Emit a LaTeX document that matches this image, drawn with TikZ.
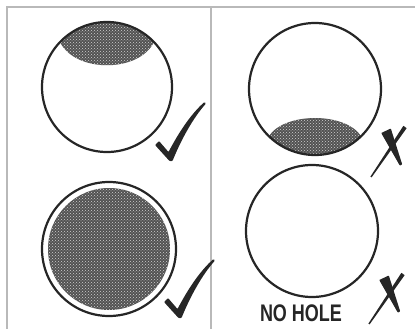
\documentclass[tikz,border=0pt]{standalone}
\usepackage{fontspec}
\setmainfont{Liberation Sans}
\usetikzlibrary{patterns}
\tikzset{
    frame/.style={draw=gray!55, line width=1.4pt},
    disc/.style={circle, draw=black!85, line width=2.2pt, minimum size=#1, inner sep=0pt},
    hatch/.style={fill=black!68, postaction={pattern=crosshatch dots, pattern color=white!65!gray}},
    ink/.style={fill=black!85},
    okmark/.pic={
        \fill[ink, rounded corners=0.8pt] (-16,-15) -- (-12,-19) -- (-2.5,-8) .. controls (8,-28) and (20,-46) .. (33.5,-58) -- (35,-56.5) .. controls (22,-42) and (10,-20) .. (1.5,1) -- (-1.5,1) -- cycle;
    },
    badmark/.pic={
        \fill[ink] (-20.4,32.4) -- (-21.6,31.6) -- (11.4,-19.2) -- (14.6,-16.8) -- cycle;
        \fill[ink, rounded corners=0.6pt] (-1.2,-16.5) -- (-10.8,-12) -- (7.8,20.6) -- (10.2,19.4) -- cycle;
    }
}
\begin{document}
\begin{tikzpicture}[x=1pt, y=-1pt]
    \useasboundingbox (0,0) rectangle (415,329);
    % frame
    \coordinate (tl) at (7,7);
    \coordinate (tr) at (415,7);
    \coordinate (bl) at (7,329);
    \coordinate (mt) at (211,7);
    \coordinate (mb) at (211,329);
    \draw[frame] (tr) -- (tl) -- (bl);
    \draw[frame] (mt) -- (mb);

    % centres
    \coordinate (o1) at (107,87);
    \coordinate (o2) at (109,249);
    \coordinate (o3) at (315,89);
    \coordinate (o4) at (312,231);

    % top left: shaded cap at the top
    \begin{scope}
        \clip (o1) circle[radius=65pt];
        \path[hatch] (40,42) -- (60,42) .. controls (75,73) and (139,73) .. (154,42) -- (175,42) -- (175,10) -- (40,10) -- cycle;
    \end{scope}
    \node[disc=130pt] (c1) at (o1) {};

    % bottom left: shaded all over
    \path[hatch] (o2) circle[radius=61pt];
    \node[disc=134pt] (c2) at (o2) {};

    % top right: shaded cap at the bottom
    \begin{scope}
        \clip (o3) circle[radius=66pt];
        \path[hatch] (245,136) -- (269,136) .. controls (285,112) and (345,112) .. (361,136) -- (385,136) -- (385,160) -- (245,160) -- cycle;
    \end{scope}
    \node[disc=132pt] (c3) at (o3) {};

    % bottom right: no hole
    \node[disc=132pt] (c4) at (o4) {};
    \node[font=\bfseries\fontsize{24}{24}\selectfont, text=black!85, inner sep=0pt, anchor=base] (nohole) at (301,321) {\scalebox{0.75}[1]{NO HOLE}};

    % marks
    \pic at (171,160) {okmark};
    \pic at (180,317) {okmark};
    \pic at (392,145) {badmark};
    \pic at (390,292) {badmark};
\end{tikzpicture}
\end{document}
